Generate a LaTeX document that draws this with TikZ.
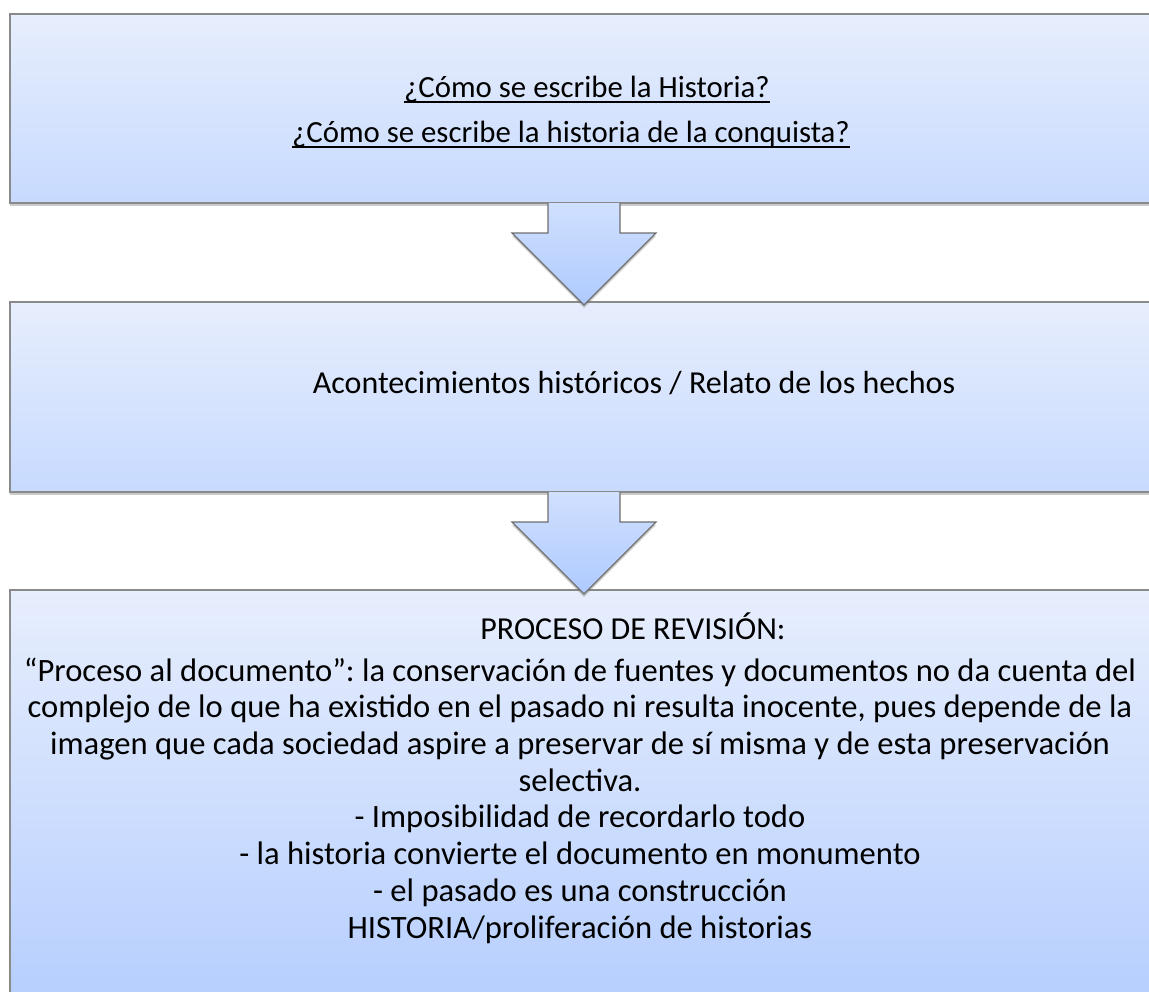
\documentclass[tikz,border=0pt]{standalone}
\usepackage{fontspec}
\setmainfont{Carlito}
\frenchspacing
\usetikzlibrary{shadows}
\definecolor{boxtop}{HTML}{E7EEFD}
\definecolor{boxbot}{HTML}{C7DAFE}
\definecolor{box3bot}{HTML}{B0CBFE}
\definecolor{arrtop}{HTML}{D0E0FE}
\definecolor{arrbot}{HTML}{AECAFE}
\definecolor{edge}{HTML}{8A8A8A}
\tikzset{
  panel/.style={rectangle, draw=edge, line width=1.3pt, top color=boxtop, bottom color=boxbot,
    drop shadow={shadow xshift=0pt, shadow yshift=-3pt, opacity=0.35, fill=black!60}},
  txt/.style={inner sep=0pt, font=\fontsize{32}{36.7}\selectfont, text=black},
  toptxt/.style={txt, font=\fontsize{30.8}{36}\selectfont},
  arrowfill/.style={top color=arrtop, bottom color=arrbot, draw=none},
  arrowedge/.style={draw=edge!80!black, line width=1.2pt, line join=miter},
}
\begin{document}
\begin{tikzpicture}[x=1pt,y=1pt]
\useasboundingbox (0,0) rectangle (1149,-991);
% panels
\node[panel, minimum width=1142pt, minimum height=189pt] (box1) at (581,-108.5) {};
\node[panel, minimum width=1142pt, minimum height=190pt] (box2) at (581,-397) {};
\node[panel, bottom color=box3bot, minimum width=1142pt, minimum height=460pt] (box3) at (581,-820) {};
% arrows
\foreach \a/\t/\h/\b in {1/-203/-233/-305, 2/-492/-522/-594}{
  \coordinate (s\a l) at (548,\t);
  \coordinate (s\a r) at (620,\t);
  \coordinate (h\a l) at (512,\h);
  \coordinate (h\a r) at (656,\h);
  \coordinate (tip\a) at (584,\b);
  \shade[arrowfill, drop shadow={shadow xshift=0pt, shadow yshift=-3pt, opacity=0.3, fill=black!60}]
    (s\a l) -- (s\a l |- h\a l) -- (h\a l) -- (tip\a) -- (h\a r) -- (s\a r |- h\a r) -- (s\a r) -- cycle;
  \draw[arrowedge] (s\a l) -- (s\a l |- h\a l) -- (h\a l) -- (tip\a) -- (h\a r) -- (s\a r |- h\a r) -- (s\a r);
}
% texts
\node[toptxt, anchor=base] (q1) at (587,-97) {¿Cómo se escribe la Historia?};
\node[toptxt, anchor=base] (q2) at (571,-142) {¿Cómo se escribe la historia de la conquista?};
\draw[line width=1.7pt] ([yshift=-5pt]q1.base west) -- ([yshift=-5pt]q1.base east);
\draw[line width=1.7pt] ([yshift=-5pt]q2.base west) -- ([yshift=-5pt]q2.base east);
\node[txt, anchor=base] (t2) at (634,-393) {Acontecimientos históricos / Relato de los hechos};
\node[txt, anchor=base] (t3) at (633,-639) {PROCESO DE REVISIÓN:};
\node[txt, font=\fontsize{32.6}{36.7}\selectfont, anchor=base, align=center] (t4) at (580,-938) {“Proceso al documento”: la conservación de fuentes y documentos no da cuenta del\\
complejo de lo que ha existido en el pasado ni resulta inocente, pues depende de la\\
imagen que cada sociedad aspire a preservar de sí misma y de esta preservación\\
selectiva.\\
- Imposibilidad de recordarlo todo\\
- la historia convierte el documento en monumento\\
- el pasado es una construcción\\
HISTORIA/proliferación de historias};
\end{tikzpicture}
\end{document}
